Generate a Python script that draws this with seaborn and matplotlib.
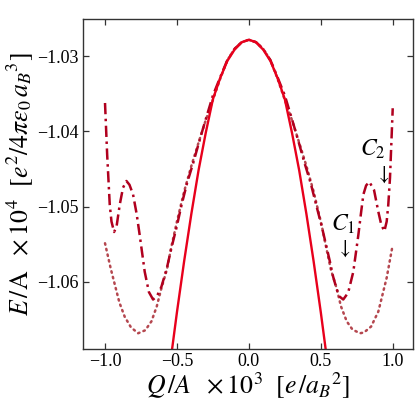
import numpy as np
import pandas as pd
import matplotlib
matplotlib.use("Agg")
import matplotlib.pyplot as plt
from matplotlib.ticker import FuncFormatter
import seaborn as sns

# ---- data ----
q_solid = [-0.535, -0.50, -0.45, -0.40, -0.35, -0.30, -0.25, -0.20, -0.15, -0.10, -0.05, 0.0,
           0.05, 0.10, 0.15, 0.20, 0.25, 0.30, 0.35, 0.40, 0.45, 0.50, 0.535]
e_solid = [-1.0692, -1.0641, -1.0573, -1.0510, -1.0452, -1.0402, -1.0357, -1.0329, -1.0306, -1.0291, -1.0281, -1.02777,
           -1.0281, -1.0291, -1.0306, -1.0329, -1.0357, -1.0402, -1.0452, -1.0510, -1.0573, -1.0641, -1.0692]

q_dashdot = [-1.0, -0.985, -0.967, -0.955, -0.937, -0.92, -0.898, -0.875, -0.851, -0.83, -0.805, -0.78,
             -0.759, -0.724, -0.695, -0.666, -0.64, -0.608, -0.57, -0.538, -0.503, -0.468, -0.43, -0.387,
             -0.34, -0.294, -0.25, -0.225, -0.20, -0.15, -0.10, -0.05, 0.0,
             0.05, 0.10, 0.15, 0.20, 0.225, 0.25, 0.294, 0.34, 0.387, 0.43, 0.468, 0.506, 0.535, 0.564,
             0.585, 0.61, 0.63, 0.656, 0.69, 0.726, 0.761, 0.78, 0.796, 0.815, 0.837, 0.87, 0.90, 0.92,
             0.942, 0.958, 0.969, 0.981, 1.0]
e_dashdot = [-1.0362, -1.0431, -1.0498, -1.0520, -1.0534, -1.0527, -1.0498, -1.0475, -1.0466, -1.0471, -1.0484, -1.0510,
             -1.0538, -1.0587, -1.0614, -1.0624, -1.0620, -1.0607, -1.0582, -1.0555, -1.0528, -1.0498, -1.0469, -1.0442,
             -1.0410, -1.0380, -1.0352, -1.0340, -1.0328, -1.0305, -1.0290, -1.0281, -1.02777,
             -1.0281, -1.0290, -1.0305, -1.0328, -1.0340, -1.0352, -1.0380, -1.0410, -1.0442, -1.0469, -1.0498, -1.0526, -1.0550, -1.0574,
             -1.0593, -1.0610, -1.0620, -1.0624, -1.0615, -1.0587, -1.0538, -1.0508, -1.0484, -1.0472, -1.0467, -1.0478, -1.0507, -1.0524,
             -1.0533, -1.0520, -1.0498, -1.0462, -1.0369]

q_dotted = [-1.0, -0.96, -0.932, -0.90, -0.863, -0.82, -0.77, -0.72, -0.677, -0.64, -0.608, -0.57, -0.538,
            -0.50, -0.45, -0.40, -0.35, -0.30, -0.25, -0.20, -0.15, -0.10, -0.05, 0.0,
            0.05, 0.10, 0.15, 0.20, 0.25, 0.30, 0.35, 0.40, 0.45, 0.506, 0.538, 0.57, 0.61, 0.64, 0.68,
            0.72, 0.772, 0.80, 0.85, 0.90, 0.958, 1.0]
e_dotted = [-1.0549, -1.0583, -1.0604, -1.0628, -1.0647, -1.0661, -1.0669, -1.0665, -1.0653, -1.0633, -1.0609, -1.0584, -1.0553,
            -1.0520, -1.0480, -1.0446, -1.0415, -1.0385, -1.0358, -1.0330, -1.0305, -1.0290, -1.0281, -1.02777,
            -1.0281, -1.0290, -1.0305, -1.0330, -1.0358, -1.0385, -1.0415, -1.0446, -1.0480, -1.0525, -1.0555, -1.0584, -1.0609, -1.0633, -1.0653,
            -1.0664, -1.0669, -1.0668, -1.0660, -1.0640, -1.0595, -1.0551]

x_ticks = [-1.0, -0.5, 0.0, 0.5, 1.0]
y_ticks = [-1.06, -1.05, -1.04, -1.03]

# ---- style ----
sns.set_style("ticks")
plt.rcParams['font.family'] = ['Liberation Serif', 'DejaVu Serif']
plt.rcParams['mathtext.fontset'] = 'stix'
plt.rcParams['axes.unicode_minus'] = True
plt.rcParams['text.color'] = 'black'
plt.rcParams['axes.labelcolor'] = 'black'
plt.rcParams['xtick.labelcolor'] = 'black'
plt.rcParams['ytick.labelcolor'] = 'black'

fig = plt.figure(figsize=(4.15, 4.04), dpi=100)
ax = fig.add_axes([0.2007, 0.1361, 0.9952 - 0.2007, 0.953 - 0.1361])

df_dot = pd.DataFrame({"Q": q_dotted, "E": e_dotted})
df_dd = pd.DataFrame({"Q": q_dashdot, "E": e_dashdot})
df_s = pd.DataFrame({"Q": q_solid, "E": e_solid})

sns.lineplot(data=df_dot, x="Q", y="E", ax=ax, color="#b5474f", lw=1.8,
             linestyle=(0, (0.6, 1.7)), dash_capstyle="round", sort=False)
sns.lineplot(data=df_dd, x="Q", y="E", ax=ax, color="#b0001e", lw=1.8,
             linestyle=(0, (4.5, 1.8, 1.0, 1.8)), sort=False)
sns.lineplot(data=df_s, x="Q", y="E", ax=ax, color="#e8001c", lw=1.7, sort=False)

ax.set_xlim(-1.151, 1.141)
ax.set_ylim(-1.069, -1.025)
ax.set_xticks(x_ticks)
ax.set_yticks(y_ticks)
fmt_x = FuncFormatter(lambda v, p: f"{v:.1f}".replace("-", "\u2212"))
fmt_y = FuncFormatter(lambda v, p: f"{v:.2f}".replace("-", "\u2212"))
ax.xaxis.set_major_formatter(fmt_x)
ax.yaxis.set_major_formatter(fmt_y)
ax.tick_params(direction="in", top=True, right=True, length=4.5, width=0.9,
               labelsize=13, color="#333333", pad=3)
for s in ax.spines.values():
    s.set_color("#333333")
    s.set_linewidth(1.0)

ax.set_xlabel(r"$Q\,/A\ \ \times 10^3\ \ [e\,/a_B{}^2]$", fontsize=18.5, labelpad=0)
ax.set_ylabel(r"$E\,/\mathrm{A}\ \ \times 10^4\ \ [e^2/4\pi\epsilon_0\, a_B{}^3]$", fontsize=18.5, labelpad=2)

ax.text(0.861, -1.0424, r"$C_2$", fontsize=17, ha="center", va="center")
ax.text(0.924, -1.0458, r"$\downarrow$", fontsize=15, ha="center", va="center")
ax.text(0.656, -1.0524, r"$C_1$", fontsize=17, ha="center", va="center")
ax.text(0.656, -1.0557, r"$\downarrow$", fontsize=15, ha="center", va="center")

fig.savefig("out.png", dpi=100)
